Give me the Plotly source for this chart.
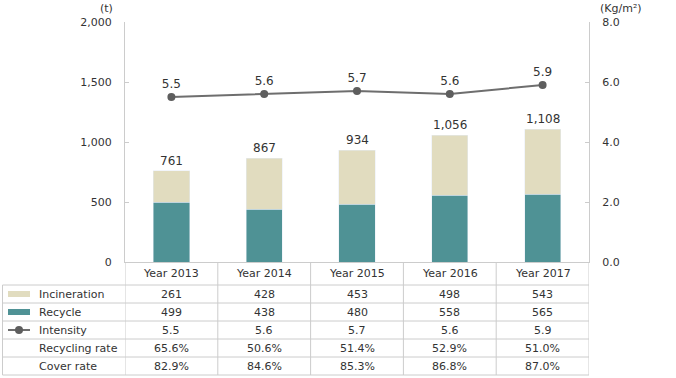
import plotly.graph_objects as go

# ---- data ----
years = ["Year 2013", "Year 2014", "Year 2015", "Year 2016", "Year 2017"]
incineration = [261, 428, 453, 498, 543]
recycle = [499, 438, 480, 558, 565]
totals = [761, 867, 934, 1056, 1108]
intensity = [5.5, 5.6, 5.7, 5.6, 5.9]
recycling_rate = [65.6, 50.6, 51.4, 52.9, 51.0]
cover_rate = [82.9, 84.6, 85.3, 86.8, 87.0]
row_labels = ["Incineration", "Recycle", "Intensity", "Recycling rate", "Cover rate"]

# ---- style ----
W, H = 676, 378
FONT = "DejaVu Sans"
TXT = "#333333"
GRID = "#cccccc"
C_INC = "#e1dcbf"
C_REC = "#4f9295"
C_LINE = "#6e6e6e"
C_MK = "#5e5e5e"

def px(x):
    return x / W

def py(y):
    return 1 - y / H

PLOT_L, PLOT_R, PLOT_T, PLOT_B = 125, 589, 22, 262
ROWS = [285, 303, 321, 339, 357, 375]

fig = go.Figure()
fig.add_trace(go.Bar(x=years, y=recycle, marker_color=C_REC, width=0.39,
                     name="Recycle", hoverinfo="y"))
fig.add_trace(go.Bar(x=years, y=incineration, marker_color=C_INC, width=0.39,
                     name="Incineration", hoverinfo="y"))
fig.add_trace(go.Scatter(x=years, y=intensity, yaxis="y2", mode="lines+markers+text",
                         line=dict(color=C_LINE, width=2),
                         marker=dict(color=C_MK, size=8),
                         text=[f"{v:.1f}" for v in intensity],
                         textposition="top center",
                         textfont=dict(family=FONT, size=12, color=TXT),
                         cliponaxis=False,
                         name="Intensity"))

annotations = []
# totals above bars
for yr, t in zip(years, totals):
    annotations.append(dict(x=yr, y=t, xref="x", yref="y", text=f"{t:,}",
                            showarrow=False, yanchor="bottom", yshift=1,
                            font=dict(family=FONT, size=12, color=TXT)))

# axis unit labels
annotations.append(dict(x=px(106), y=py(8), xref="paper", yref="paper", text="(t)",
                        showarrow=False, xanchor="center", yanchor="middle",
                        font=dict(family=FONT, size=11, color=TXT)))
annotations.append(dict(x=px(598), y=py(8), xref="paper", yref="paper", text="(Kg/m²)",
                        showarrow=False, xanchor="left", yanchor="middle",
                        font=dict(family=FONT, size=11, color=TXT)))

# header row (years)
for yr in years:
    annotations.append(dict(x=yr, y=py((PLOT_B + ROWS[0]) / 2), xref="x", yref="paper",
                            text=yr, showarrow=False, yanchor="middle",
                            font=dict(family=FONT, size=11, color=TXT)))

# table rows
row_values = [
    [f"{v}" for v in incineration],
    [f"{v}" for v in recycle],
    [f"{v:.1f}" for v in intensity],
    [f"{v:.1f}%" for v in recycling_rate],
    [f"{v:.1f}%" for v in cover_rate],
]
for i, (lab, vals) in enumerate(zip(row_labels, row_values)):
    yc = py((ROWS[i] + ROWS[i + 1]) / 2)
    annotations.append(dict(x=px(37), y=yc, xref="paper", yref="paper", text=lab,
                            showarrow=False, xanchor="left", yanchor="middle",
                            font=dict(family=FONT, size=11, color=TXT)))
    for yr, v in zip(years, vals):
        annotations.append(dict(x=yr, y=yc, xref="x", yref="paper", text=v,
                                showarrow=False, yanchor="middle",
                                font=dict(family=FONT, size=11, color=TXT)))

shapes = []
# horizontal table lines
for r in ROWS:
    shapes.append(dict(type="line", xref="paper", yref="paper",
                       x0=px(2.5), x1=px(PLOT_R), y0=py(r), y1=py(r),
                       line=dict(color=GRID, width=1)))
# left border
shapes.append(dict(type="line", xref="paper", yref="paper",
                   x0=px(2.5), x1=px(2.5), y0=py(ROWS[0]), y1=py(ROWS[-1]),
                   line=dict(color=GRID, width=1)))
# column separators (at category boundaries)
for k in range(len(years) + 1):
    shapes.append(dict(type="line", xref="x", yref="paper",
                       x0=k - 0.5, x1=k - 0.5, y0=py(PLOT_B), y1=py(ROWS[-1]),
                       line=dict(color=GRID, width=1)))
# legend swatches inside table
for i, col in enumerate([C_INC, C_REC]):
    yc = (ROWS[i] + ROWS[i + 1]) / 2
    shapes.append(dict(type="rect", xref="paper", yref="paper",
                       x0=px(8), x1=px(30), y0=py(yc - 3), y1=py(yc + 3),
                       fillcolor=col, line=dict(width=0)))
yc = (ROWS[2] + ROWS[3]) / 2
shapes.append(dict(type="line", xref="paper", yref="paper",
                   x0=px(8), x1=px(30), y0=py(yc), y1=py(yc),
                   line=dict(color=C_LINE, width=2)))
shapes.append(dict(type="circle", xref="paper", yref="paper",
                   x0=px(15), x1=px(23), y0=py(yc - 4), y1=py(yc + 4),
                   fillcolor=C_MK, line=dict(width=0)))

fig.update_layout(
    width=W, height=H, autosize=False,
    margin=dict(l=0, r=0, t=0, b=0, pad=0, autoexpand=False),
    paper_bgcolor="white", plot_bgcolor="white",
    barmode="stack", showlegend=False,
    font=dict(family=FONT, size=11, color=TXT),
    xaxis=dict(domain=[px(PLOT_L), px(PLOT_R)], type="category", range=[-0.5, 4.5],
               showticklabels=False, ticks="", showline=True, linecolor=GRID,
               showgrid=False, zeroline=False, fixedrange=True, automargin=False),
    yaxis=dict(domain=[py(PLOT_B), py(PLOT_T)], range=[0, 2000], dtick=500,
               tickformat=",", showline=True, linecolor=GRID, ticks="inside",
               ticklen=4, tickcolor=GRID, showgrid=False, zeroline=False,
               ticklabelstandoff=10, automargin=False,
               tickfont=dict(family=FONT, size=11, color=TXT)),
    yaxis2=dict(domain=[py(PLOT_B), py(PLOT_T)], overlaying="y", side="right",
                anchor="x", range=[0, 8], dtick=2, tickformat=".1f",
                showline=True, linecolor=GRID, ticks="inside", ticklen=4,
                tickcolor=GRID, showgrid=False, zeroline=False,
                ticklabelstandoff=10, automargin=False,
                tickfont=dict(family=FONT, size=11, color=TXT)),
    annotations=annotations,
    shapes=shapes,
)

fig.write_html(
    "out.html",
    config={"displayModeBar": False},
    post_script="document.body.style.margin='0';document.body.style.padding='0';"
                "document.body.style.overflow='hidden';",
)
